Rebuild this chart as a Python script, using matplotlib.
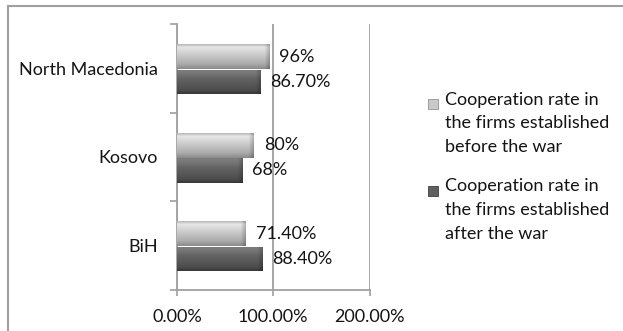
import numpy as np
import matplotlib
matplotlib.use("Agg")
import matplotlib.pyplot as plt
from matplotlib.lines import Line2D
from matplotlib.patches import Rectangle
from matplotlib.colors import LinearSegmentedColormap

# ---- data ----
countries = ["North Macedonia", "Kosovo", "BiH"]
before_war = [96.0, 80.0, 71.4]
after_war = [86.7, 68.0, 88.4]
before_labels = ["96%", "80%", "71.40%"]
after_labels = ["86.70%", "68%", "88.40%"]
series_names = ["Cooperation rate in\nthe firms established\nbefore the war",
                "Cooperation rate in\nthe firms established\nafter the war"]
x_ticks = [0, 100, 200]
x_ticklabels = ["0.00%", "100.00%", "200.00%"]

plt.rcParams["font.family"] = ["Lato", "DejaVu Sans"]
FS = 13
TXT = "#141414"
GRID = "#a0a0a0"

W, H = 623, 331
fig = plt.figure(figsize=(W / 100, H / 100), dpi=100)
ax = fig.add_axes([177 / W, 1 - 289.5 / H, (369.5 - 177) / W, (289.5 - 24) / H])

y = np.arange(len(countries))
bar_h = 0.28
off_before, off_after = -0.13, 0.155

# vertical shading profiles (top -> bottom)
light_cmap = LinearSegmentedColormap.from_list(
    "light", [(0.0, "#b8b8b8"), (0.12, "#e6e6e6"), (0.35, "#d2d2d2"),
              (0.8, "#ababab"), (1.0, "#8a8a8a")])
dark_cmap = LinearSegmentedColormap.from_list(
    "dark", [(0.0, "#7c7c7c"), (0.12, "#7a7a7a"), (0.4, "#626262"),
             (0.85, "#4c4c4c"), (1.0, "#383838")])

bars_b = ax.barh(y + off_before, before_war, height=bar_h, color="#b0b0b0", zorder=2)
bars_a = ax.barh(y + off_after, after_war, height=bar_h, color="#5a5a5a", zorder=2)

px_per_unit = (369.5 - 177) / 200.0


def shade(patch, cmap):
    x0, y0 = patch.get_x(), patch.get_y()
    w, h = patch.get_width(), patch.get_height()
    ny, nx = 60, 200
    rows = np.linspace(0, 1, ny)[:, None]
    img = cmap(np.repeat(rows, nx, axis=1))
    # darker bevel at the bar end
    dist_px = (1 - np.linspace(0, 1, nx)) * w * px_per_unit
    fac = 1 - 0.22 * np.clip((5 - dist_px) / 5, 0, 1)
    img[..., :3] *= fac[None, :, None]
    im = ax.imshow(img, extent=(x0, x0 + w, y0 + h, y0), origin="upper",
                   aspect="auto", interpolation="bilinear", zorder=3)
    im.set_clip_path(patch)


for p in bars_b:
    shade(p, light_cmap)
for p in bars_a:
    shade(p, dark_cmap)

# value labels
for yi, v, s in zip(y, before_war, before_labels):
    ax.annotate(s, (v, yi + off_before), xytext=(10, 0), textcoords="offset pixels",
                va="center", ha="left", fontsize=FS, color=TXT, zorder=5)
for yi, v, s in zip(y, after_war, after_labels):
    ax.annotate(s, (v, yi + off_after), xytext=(10, 0), textcoords="offset pixels",
                va="center", ha="left", fontsize=FS, color=TXT, zorder=5)

ax.set_xlim(0, 200)
ax.set_ylim(len(countries) - 0.5, -0.5)

ax.set_xticks(x_ticks)
ax.set_xticklabels(x_ticklabels, fontsize=FS, color=TXT)
ax.tick_params(axis="x", length=4, width=1.2, color=GRID, pad=10, direction="out")
ax.set_yticks(y)
ax.set_yticklabels(countries, fontsize=FS, color=TXT)
ax.tick_params(axis="y", which="major", length=0, pad=14)
ax.set_yticks(np.arange(len(countries) + 1) - 0.5, minor=True)
ax.tick_params(axis="y", which="minor", length=5, width=1.2, color=GRID, direction="out")

ax.xaxis.grid(True, color=GRID, lw=1.3, zorder=0)
ax.set_axisbelow(True)
for s in ("top", "right"):
    ax.spines[s].set_visible(False)
for s in ("left", "bottom"):
    ax.spines[s].set_color(GRID)
    ax.spines[s].set_linewidth(1.3)

# chart frame (top and left edges)
fig.add_artist(Line2D([7.5 / W, 1.0], [1 - 6 / H, 1 - 6 / H], color=GRID, lw=1.5,
                      transform=fig.transFigure))
fig.add_artist(Line2D([7.5 / W, 7.5 / W], [0, 1 - 6 / H], color=GRID, lw=1.5,
                      transform=fig.transFigure))

# legend
legend_tops = [104, 191]
for top, name, cmap in zip(legend_tops, series_names, [light_cmap, dark_cmap]):
    sq = Rectangle((428 / W, 1 - (top + 4.5) / H), 9.5 / W, 9.5 / H,
                   transform=fig.transFigure, facecolor=cmap(0.45), edgecolor=cmap(0.95),
                   lw=0.6)
    fig.add_artist(sq)
    fig.text(445 / W, 1 - (top - 12.5) / H, name, fontsize=FS, color=TXT,
             va="top", ha="left", linespacing=1.6)

fig.savefig("out.png", dpi=100)
